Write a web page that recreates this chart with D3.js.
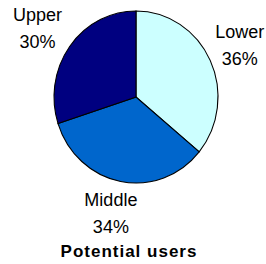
<!DOCTYPE html>
<html>
<head>
<meta charset="utf-8">
<script src="https://cdn.jsdelivr.net/npm/d3@7"></script>
<style>
  body { margin: 0; background: #fff; }
  svg { display: block; font-family: "Liberation Sans", Arial, sans-serif; }
</style>
</head>
<body>
<svg id="chart" width="266" height="264"></svg>
<script>
const categories = ['Lower', 'Middle', 'Upper'];
const values = [36, 34, 30];
const colors = ['#CCFFFF', '#0066CC', '#000080'];
const title = 'Potential users';

const svg = d3.select('#chart');
const cx = 136, cy = 97;
const rx = 82, ry = 86;

const pie = d3.pie().sort(null).value(d => d.value);
const arcs = pie(categories.map((c, i) => ({ name: c, value: values[i], color: colors[i] })));

const arc = d3.arc().innerRadius(0).outerRadius(ry);
const labelArc = d3.arc().innerRadius(118).outerRadius(118);

// slightly squashed pie, like the original
const g = svg.append('g')
    .attr('transform', `translate(${cx},${cy}) scale(${rx / ry},1)`);

g.selectAll('path')
    .data(arcs)
    .enter().append('path')
    .attr('d', arc)
    .attr('fill', d => d.data.color)
    .attr('stroke', '#000')
    .attr('stroke-width', 1.1)
    .attr('vector-effect', 'non-scaling-stroke');

const labels = svg.append('g')
    .attr('transform', `translate(${cx},${cy})`)
    .selectAll('text')
    .data(arcs)
    .enter().append('text')
    .attr('text-anchor', 'middle')
    .attr('font-size', 18)
    .attr('fill', '#000')
    .attr('transform', d => {
        const [x, y] = labelArc.centroid(d);
        // labels on the right sit a little higher
        return `translate(${x - 3},${y - (x > 0 ? 2 : 0)})`;
    });

labels.append('tspan')
    .attr('x', 0)
    .attr('y', -7)
    .text(d => d.data.name);

labels.append('tspan')
    .attr('x', 0)
    .attr('y', 20)
    .text(d => d.data.value + '%');

svg.append('text')
    .attr('x', 129)
    .attr('y', 257)
    .attr('text-anchor', 'middle')
    .attr('font-size', 17)
    .attr('font-weight', 'bold')
    .attr('letter-spacing', 1)
    .text(title);
</script>
</body>
</html>
